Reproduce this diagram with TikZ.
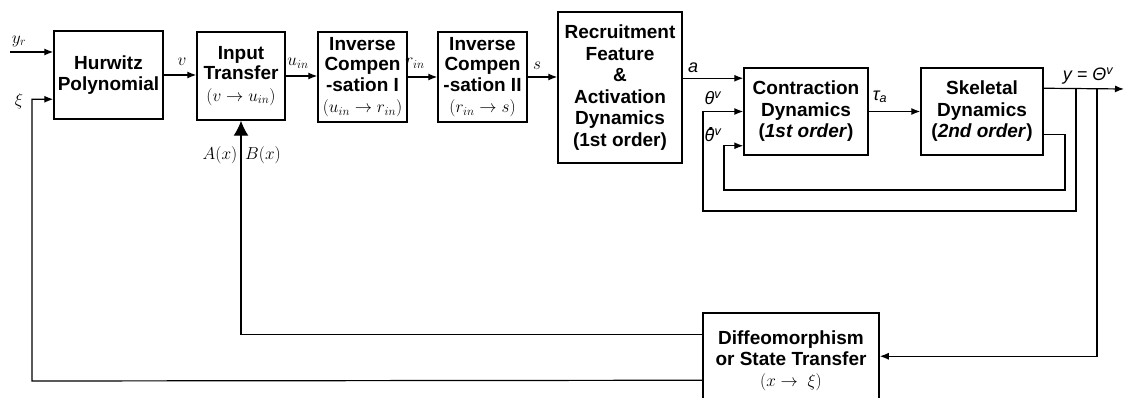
\documentclass[tikz,border=0pt]{standalone}
\usepackage{fontspec}
\newfontfamily\boxfont{Liberation Sans}
\usetikzlibrary{arrows.meta,calc}
\newcommand{\thetadot}{θ\kern-0.32em\raisebox{0.6em}{\bfseries\fontsize{20}{20}\selectfont .}\kern0.02em}
\newcommand{\mline}[1]{{\mdseries\fontsize{17}{18}\selectfont #1}}
\tikzset{
  blk/.style={draw, line width=1.5pt, align=center, inner sep=1pt,
    font=\boxfont\bfseries\fontsize{19}{20.5}\selectfont},
  arr/.style={line width=1.2pt, -{Latex[length=9pt,width=7pt]}},
  bigarr/.style={line width=1.2pt, -{Latex[length=15pt,width=15pt]}},
  ln/.style={line width=1.2pt},
  mlab/.style={inner sep=0pt, font=\fontsize{18}{19}\selectfont},
  slab/.style={inner sep=0pt, font=\boxfont\itshape\fontsize{18}{19}\selectfont}
}
\begin{document}
\begin{tikzpicture}[x=1pt,y=-1pt]
\useasboundingbox (0,0) rectangle (1125,398);
% blocks
\node[blk, minimum width=109pt, minimum height=88pt] (hur) at (108.5,75) {Hurwitz\\Polynomial};
\node[blk, minimum width=88pt, minimum height=88pt] (inp) at (241,76) {Input\\Transfer\\[1pt]\mline{$(v \rightarrow u_{in})$}};
\node[blk, minimum width=89pt, minimum height=90pt] (ic1) at (362.5,77) {Inverse\\Compen\\-sation I\\[1pt]\mline{$(u_{in}\rightarrow r_{in})$}};
\node[blk, minimum width=89pt, minimum height=90pt] (ic2) at (482.5,77) {Inverse\\Compen\\-sation II\\[1pt]\mline{$(r_{in}\rightarrow s)$}};
\node[blk, minimum width=124pt, minimum height=151pt, font=\boxfont\bfseries\fontsize{19}{21.5}\selectfont] (rec) at (620,87.5) {Recruitment\\Feature\\\&\\Activation\\Dynamics\\(1st order)};
\node[blk, minimum width=124pt, minimum height=87pt, font=\boxfont\bfseries\fontsize{19}{21.5}\selectfont] (con) at (806,111.5) {Contraction\\Dynamics\\(\textit{1st order})};
\node[blk, minimum width=122pt, minimum height=87pt, font=\boxfont\bfseries\fontsize{19}{21.5}\selectfont] (ske) at (982,111.5) {Skeletal\\Dynamics\\(\textit{2nd order})};
\node[blk, minimum width=176pt, minimum height=96pt] (dif) at (791,361) {Diffeomorphism\\or State Transfer\\[1pt]\mline{$(x\rightarrow\ \xi)$}};
% coordinates
\coordinate (yrs) at (10,52);
\coordinate (xic) at (32,381);
\coordinate (ain) at ($(con.north west)+(0,11)$);
\coordinate (tin) at ($(con.south west)+(0,-10)$);
\coordinate (yo) at ($(ske.north east)+(0,21)$);
\coordinate (yend) at (1124,89);
\coordinate (j1) at (1076,89);
\coordinate (j2) at (1097,89);
\coordinate (f1b) at (703,211);
\coordinate (s2) at ($(ske.south east)+(0,-21)$);
\coordinate (f2) at (1065,190);
\coordinate (f2b) at (724,190);
% connectors
\draw[arr] (yrs) -- (yrs -| hur.west);
\draw[arr] ($(dif.north west)+(0,68)$) -- (xic) |- ($(hur.north west)+(0,69)$);
\draw[arr] (hur.east) -- (hur.east -| inp.west);
\draw[arr] (inp.east) -- (inp.east -| ic1.west);
\draw[arr] (ic1.east) -- (ic1.east -| ic2.west);
\draw[arr] (ic2.east) -- (ic2.east -| rec.west);
\draw[arr] (ain -| rec.east) -- (ain);
\draw[arr] (con.east) -- (con.east -| ske.west);
\draw[arr] (yo) -- (yend);
\draw[arr] (j1) |- (f1b) |- (con.west);
\draw[arr] (s2) -| (f2) -- (f2b) |- (tin);
\draw[arr] (j2) |- ($(dif.north east)+(0,44)$);
\draw[bigarr] ($(dif.north west)+(0,22)$) -| (inp.south);
% labels
\node[mlab] (lyr) at (19,41) {$y_r$};
\node[mlab] (lxi) at (19,101) {$\xi$};
\node[mlab] (lv) at (182,62) {$v$};
\node[mlab] (lu) at (298,63) {$u_{in}$};
\node[mlab] (lr) at (415,63) {$r_{in}$};
\node[mlab] (ls) at (537,66) {$s$};
\node[slab] (la) at (693,68) {a};
\node[slab] (lth) at (713,98) {θ\textsuperscript{v}};
\node[slab] (lthd) at (713,135) {\thetadot\textsuperscript{v}};
\node[slab] (ltau) at (880,97) {τ\textsubscript{a}};
\node[slab] (ly) at (1088,76) {y = Θ\textsuperscript{v}};
\node[mlab] (lA) at (220,155) {$A(x)$};
\node[mlab] (lB) at (263,155) {$B(x)$};
\end{tikzpicture}
\end{document}
